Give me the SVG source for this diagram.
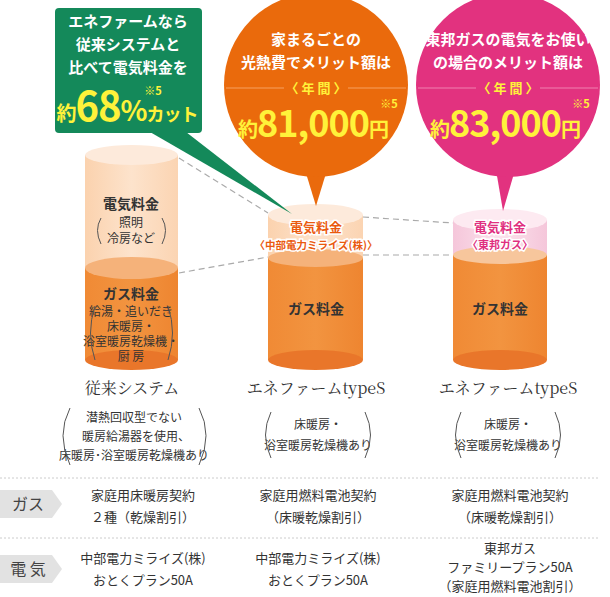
<svg xmlns="http://www.w3.org/2000/svg" width="610" height="597" viewBox="0 0 610 597">
<defs>
<linearGradient id="gas" x1="0" x2="1" y1="0" y2="0"><stop offset="0" stop-color="#f08a35"/><stop offset="0.5" stop-color="#f29440"/><stop offset="1" stop-color="#ee8530"/></linearGradient>
<linearGradient id="peach" x1="0" x2="1"><stop offset="0" stop-color="#fbd2ae"/><stop offset="0.5" stop-color="#fde3cc"/><stop offset="1" stop-color="#fbd4b2"/></linearGradient>
<linearGradient id="pinkg" x1="0" x2="1"><stop offset="0" stop-color="#f5c6da"/><stop offset="0.5" stop-color="#fbe2ec"/><stop offset="1" stop-color="#f5c6da"/></linearGradient>
</defs>
<style>
text{font-family:"Noto Sans CJK JP","Noto Sans",sans-serif;text-anchor:middle}
.w{fill:#fff;font-weight:bold;font-size:15px}
.y{fill:#fff23a;font-weight:bold}
.b{fill:#333;font-weight:bold;font-size:14px}
.s{fill:#333;font-size:12px}
.t{fill:#333;font-size:13px}
.ser{font-family:"Noto Serif CJK JP","Liberation Serif",serif;fill:#333;font-size:16px}
.d{stroke:#aaa;stroke-width:1.2;stroke-dasharray:6 4;fill:none}
.p{fill:none;stroke:#555;stroke-width:1}
</style>
<g id="connectors">
<line class="d" x1="179" y1="158" x2="268" y2="213"/>
<line class="d" x1="179" y1="273" x2="268" y2="257"/>
<line class="d" x1="363" y1="217" x2="453" y2="223"/>
<line class="d" x1="363" y1="255" x2="453" y2="255"/>
<line x1="0" y1="478" x2="600" y2="478" stroke="#ccc" stroke-dasharray="2 2"/>
<line x1="0" y1="538" x2="600" y2="538" stroke="#ccc" stroke-dasharray="2 2"/>
</g>
<g id="cyl-left">
<rect x="85" y="268" width="93" height="92" fill="url(#gas)"/>
<ellipse cx="131.5" cy="360" rx="46.5" ry="10" fill="#e9762a"/>
<rect x="85" y="155" width="93" height="113" fill="url(#peach)"/>
<ellipse cx="131.5" cy="268" rx="46.5" ry="11" fill="#f5b27a"/>
<ellipse cx="131.5" cy="155" rx="46.5" ry="10" fill="#fdeadb"/>
<text class="b" x="131" y="209">電気料金</text>
<text class="s" x="131" y="227">照明</text>
<text class="s" x="131" y="243">冷房など</text>
<path class="p" d="M101 218 Q94 230 101 244 M162 218 Q169 230 162 244"/>
<text class="b" x="131" y="299">ガス料金</text>
<text class="s" font-size="10"><tspan x="131" y="316">給湯・追いだき</tspan><tspan x="131" y="331">床暖房・</tspan><tspan x="131" y="346">浴室暖房乾燥機・</tspan><tspan x="131" y="361">厨 房</tspan></text>
<path class="p" d="M95 306 Q86 333 95 360 M168 306 Q177 333 168 360"/>
</g>
<g id="cyl-mid">
<rect x="268" y="258" width="95" height="102" fill="url(#gas)"/>
<ellipse cx="315.5" cy="360" rx="47.5" ry="10" fill="#e9762a"/>
<rect x="268" y="215" width="95" height="43" fill="url(#peach)"/>
<ellipse cx="315.5" cy="258" rx="47.5" ry="9" fill="#f5b27a"/>
<ellipse cx="315.5" cy="215" rx="47.5" ry="11" fill="#fdeadb"/>
<text x="316" y="232" font-size="13" font-weight="bold" fill="#ea5a0f" stroke="#fff" stroke-width="3" paint-order="stroke">電気料金</text>
<text x="316" y="249" font-size="10.5" font-weight="bold" fill="#ea5a0f" stroke="#fff" stroke-width="3" paint-order="stroke">〈中部電力ミライズ(株)〉</text>
<text class="b" x="316" y="314">ガス料金</text>
</g>
<g id="cyl-right">
<rect x="453" y="255" width="94" height="105" fill="url(#gas)"/>
<ellipse cx="500" cy="360" rx="47" ry="10" fill="#e9762a"/>
<rect x="453" y="220" width="94" height="35" fill="url(#pinkg)"/>
<ellipse cx="500" cy="255" rx="47" ry="9" fill="#f7c69c"/>
<ellipse cx="500" cy="220" rx="47" ry="11" fill="#fdeaf1"/>
<text x="500" y="232" font-size="13" font-weight="bold" fill="#e0307f" stroke="#fff" stroke-width="3" paint-order="stroke">電気料金</text>
<text x="500" y="249" font-size="11" font-weight="bold" fill="#e0307f" stroke="#fff" stroke-width="3" paint-order="stroke">〈東邦ガス〉</text>
<text class="b" x="500" y="314">ガス料金</text>
</g>
<g id="bubble-green">
<path d="M150 132 L292 214 L186 132 Z" fill="#14895a"/>
<rect x="55" y="8" width="147" height="125" rx="4" fill="#14895a"/>
<text class="w" x="128" y="27">エネファームなら</text>
<text class="w" x="128" y="50">従来システムと</text>
<text class="w" x="128" y="73">比べて電気料金を</text>
<text class="y" x="153" y="95" font-size="11" font-weight="normal">※5</text>
<text class="y" x="127" y="121" font-size="40" letter-spacing="-1"><tspan font-size="20">約</tspan>68<tspan font-size="28">%</tspan><tspan font-size="18">カット</tspan></text>
</g>
<g id="bubble-orange">
<path d="M305 170 L316 206 L327 170 Z" fill="#ea6a0c"/>
<circle cx="316" cy="85" r="92" fill="#ea6a0c"/>
<text class="w" x="316" y="45">家まるごとの</text>
<text class="w" x="316" y="68">光熱費でメリット額は</text>
<line x1="226" y1="88" x2="406" y2="88" stroke="#f6a060" stroke-width="1"/>
<rect x="284" y="78" width="64" height="20" fill="#ea6a0c"/>
<text x="316" y="93" font-size="13" fill="#fff23a" font-weight="bold">〈 年 間 〉</text>
<text class="y" x="389" y="108" font-size="11" font-weight="normal">※5</text>
<text class="y" x="313" y="137" font-size="36" letter-spacing="-1"><tspan font-size="20">約</tspan>81,000<tspan font-size="20">円</tspan></text>
</g>
<g id="bubble-pink">
<path d="M496 170 L503 211 L515 170 Z" fill="#e2327f"/>
<circle cx="508" cy="85" r="92" fill="#e2327f"/>
<text class="w" x="508" y="45" font-size="13.5">東邦ガスの電気をお使い</text>
<text class="w" x="508" y="68" font-size="14">の場合のメリット額は</text>
<line x1="418" y1="88" x2="598" y2="88" stroke="#f080b0" stroke-width="1"/>
<rect x="476" y="78" width="64" height="20" fill="#e2327f"/>
<text x="508" y="93" font-size="13" fill="#fff23a" font-weight="bold">〈 年 間 〉</text>
<text class="y" x="581" y="108" font-size="11" font-weight="normal">※5</text>
<text class="y" x="505" y="137" font-size="36" letter-spacing="-1"><tspan font-size="20">約</tspan>83,000<tspan font-size="20">円</tspan></text>
</g>
<g id="labels">
<text class="ser" x="132" y="394">従来システム</text>
<text class="ser" x="316" y="394">エネファームtypeS</text>
<text class="ser" x="508" y="394">エネファームtypeS</text>
<text class="s" x="134" y="422">潜熱回収型でない</text>
<text class="s" x="136" y="441">暖房給湯器を使用、</text>
<text class="s" x="134" y="460" font-size="11">床暖房･浴室暖房乾燥機あり</text>
<path class="p" d="M70 408 Q56 435 70 465 M199 408 Q213 435 199 465"/>
<text class="s" x="318" y="429">床暖房・</text>
<text class="s" x="318" y="450">浴室暖房乾燥機あり</text>
<path class="p" d="M271 412 Q260 435 271 458 M365 412 Q376 435 365 458"/>
<text class="s" x="508" y="429">床暖房・</text>
<text class="s" x="508" y="450">浴室暖房乾燥機あり</text>
<path class="p" d="M461 412 Q450 435 461 458 M555 412 Q566 435 555 458"/>
</g>
<g id="row-gas">
<path d="M0 490 L52 490 L62 504 L52 518 L0 518 Z" fill="#e2e2e2"/>
<text x="28" y="510" font-size="16" fill="#444">ガス</text>
<text class="t" x="143" y="500">家庭用床暖房契約</text>
<text class="t" x="143" y="522">２種（乾燥割引）</text>
<text class="t" x="318" y="500">家庭用燃料電池契約</text>
<text class="t" x="318" y="522">（床暖乾燥割引）</text>
<text class="t" x="510" y="500">家庭用燃料電池契約</text>
<text class="t" x="510" y="522">（床暖乾燥割引）</text>
</g>
<g id="row-elec">
<path d="M0 555 L52 555 L62 569 L52 583 L0 583 Z" fill="#e2e2e2"/>
<text x="28" y="575" font-size="16" fill="#444">電 気</text>
<text class="t" x="143" y="563">中部電力ミライズ(株)</text>
<text class="t" x="143" y="585">おとくプラン50A</text>
<text class="t" x="318" y="563">中部電力ミライズ(株)</text>
<text class="t" x="318" y="585">おとくプラン50A</text>
<text class="t" x="510" y="553">東邦ガス</text>
<text class="t" x="510" y="572">ファミリープラン50A</text>
<text class="t" x="510" y="591">（家庭用燃料電池割引）</text>
</g>
</svg>
